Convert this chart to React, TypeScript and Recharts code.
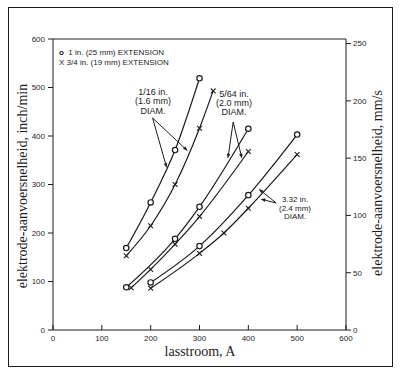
import { LineChart, Line, XAxis, YAxis, ReferenceLine } from "recharts";

// lasstroom (A) on x, draadsnelheid (inch/min) on y
const CURRENT_TICKS = [0, 100, 200, 300, 400, 500, 600];
const SPEED_TICKS = [0, 100, 200, 300, 400, 500, 600];
const MMS_TICKS = [0, 50, 100, 150, 200, 250];
const MMS_MAX = (600 * 25.4) / 60;

// 1/16 in. (1.6 mm)
const D16_LONG = [
  { x: 150, y: 169 },
  { x: 200, y: 263 },
  { x: 250, y: 371 },
  { x: 300, y: 519 },
];
const D16_SHORT = [
  { x: 150, y: 153 },
  { x: 200, y: 215 },
  { x: 250, y: 300 },
  { x: 300, y: 416 },
  { x: 328, y: 493 },
];
// 5/64 in. (2.0 mm)
const D564_LONG = [
  { x: 150, y: 88 },
  { x: 250, y: 188 },
  { x: 300, y: 254 },
  { x: 400, y: 415 },
];
const D564_SHORT = [
  { x: 160, y: 87 },
  { x: 200, y: 125 },
  { x: 250, y: 177 },
  { x: 300, y: 234 },
  { x: 400, y: 368 },
];
// 3/32 in. (2.4 mm)
const D332_LONG = [
  { x: 200, y: 98 },
  { x: 300, y: 173 },
  { x: 400, y: 278 },
  { x: 500, y: 403 },
];
const D332_SHORT = [
  { x: 200, y: 86 },
  { x: 300, y: 158 },
  { x: 350, y: 200 },
  { x: 400, y: 251 },
  { x: 500, y: 362 },
];

const SERIES = [
  { id: "d16o", data: D16_LONG, mark: "o" },
  { id: "d16x", data: D16_SHORT, mark: "x" },
  { id: "d564o", data: D564_LONG, mark: "o" },
  { id: "d564x", data: D564_SHORT, mark: "x" },
  { id: "d332o", data: D332_LONG, mark: "o" },
  { id: "d332x", data: D332_SHORT, mark: "x" },
];

// pointer arrows, in data units: [from, to]
const ARROWS = [
  [{ x: 204, y: 437 }, { x: 233, y: 334 }],
  [{ x: 204, y: 437 }, { x: 276, y: 369 }],
  [{ x: 369, y: 429 }, { x: 358, y: 353 }],
  [{ x: 369, y: 429 }, { x: 387, y: 353 }],
  [{ x: 457, y: 262 }, { x: 421, y: 291 }],
  [{ x: 457, y: 262 }, { x: 425, y: 270 }],
];

const LABELS = [
  { lines: ["1/16 in.", "(1.6 mm)", "DIAM."], cx: 153, top: 88, size: 9, lh: 9.3 },
  { lines: ["5/64 in.", "(2.0 mm)", "DIAM."], cx: 234, top: 90, size: 9, lh: 9 },
  { lines: ["3.32 in.", "(2.4 mm)", "DIAM."], cx: 295, top: 196, size: 8, lh: 8.5 },
];

const INK = "#1c1c1c";
const SANS = "'Liberation Sans', Arial, sans-serif";
const SERIF = "'Liberation Serif', 'Times New Roman', serif";

function CircleDot(props: any) {
  const { cx, cy } = props;
  if (cx == null || cy == null) return null;
  return <circle cx={cx} cy={cy} r={2.7} fill="#fff" stroke={INK} strokeWidth={1.2} />;
}

function CrossDot(props: any) {
  const { cx, cy } = props;
  if (cx == null || cy == null) return null;
  const s = 2.4;
  return (
    <path
      d={`M${cx - s},${cy - s}L${cx + s},${cy + s}M${cx - s},${cy + s}L${cx + s},${cy - s}`}
      stroke={INK}
      strokeWidth={1.1}
      fill="none"
    />
  );
}

function Arrow(p: any) {
  const { x1, y1, x2, y2 } = p;
  if (x1 == null) return null;
  const a = Math.atan2(y2 - y1, x2 - x1);
  const L = 5;
  const W = 1.7;
  const bx = x2 - L * Math.cos(a);
  const by = y2 - L * Math.sin(a);
  const pts = `${x2},${y2} ${bx - W * Math.sin(a)},${by + W * Math.cos(a)} ${bx + W * Math.sin(a)},${by - W * Math.cos(a)}`;
  return (
    <g>
      <line x1={x1} y1={y1} x2={bx} y2={by} stroke={INK} strokeWidth={1} />
      <polygon points={pts} fill={INK} />
    </g>
  );
}

// bottom ticks point up into the plot
function BottomTick(props: any) {
  const { x, y, payload } = props;
  const axisY = y - 4;
  return (
    <g>
      <line x1={x} x2={x} y1={axisY - 5} y2={axisY} stroke={INK} strokeWidth={1} />
      <text x={x} y={y + 7} textAnchor="middle" fontSize={8} fontFamily={SANS} fill={INK}>
        {payload.value}
      </text>
    </g>
  );
}

const tickStyle = { fontSize: 8, fill: INK, fontFamily: SANS };

export default function App() {
  return (
    <div style={{ position: "absolute", left: 0, top: 0, width: 400, height: 374, background: "#fff" }}>
      <div
        style={{
          position: "absolute",
          left: 8,
          top: 7,
          width: 383,
          height: 358,
          border: `1px solid ${INK}`,
        }}
      />
      <LineChart
        width={400}
        height={374}
        margin={{ top: 39, right: 0, bottom: 0, left: 0 }}
        style={{ position: "absolute", left: 0, top: 0 }}
      >
        <XAxis
          type="number"
          dataKey="x"
          domain={[0, 600]}
          ticks={CURRENT_TICKS}
          allowDataOverflow
          height={44}
          tickSize={0}
          tickMargin={4}
          tick={<BottomTick />}
          stroke={INK}
        />
        <YAxis
          yAxisId="left"
          type="number"
          dataKey="y"
          domain={[0, 600]}
          ticks={SPEED_TICKS}
          allowDataOverflow
          width={53}
          tickSize={5}
          tickMargin={3}
          tick={tickStyle}
          stroke={INK}
        />
        <YAxis
          yAxisId="right"
          orientation="right"
          type="number"
          domain={[0, MMS_MAX]}
          ticks={MMS_TICKS}
          allowDataOverflow
          width={54}
          tickSize={5}
          tickMargin={2}
          tick={tickStyle}
          stroke={INK}
        />
        <ReferenceLine yAxisId="left" y={600} stroke={INK} strokeWidth={1} />
        {ARROWS.map((seg, i) => (
          <ReferenceLine
            key={`a${i}`}
            yAxisId="left"
            segment={seg}
            ifOverflow="visible"
            shape={<Arrow />}
          />
        ))}
        {SERIES.map((s) => (
          <Line
            key={s.id}
            yAxisId="left"
            data={s.data}
            dataKey="y"
            type="monotone"
            stroke={INK}
            strokeWidth={1.2}
            dot={s.mark === "o" ? <CircleDot /> : <CrossDot />}
            activeDot={false}
            isAnimationActive={false}
          />
        ))}
      </LineChart>

      {/* legend */}
      <div
        style={{
          position: "absolute",
          left: 59,
          top: 48,
          fontFamily: SANS,
          fontSize: 8,
          lineHeight: "9.5px",
          color: INK,
          whiteSpace: "nowrap",
        }}
      >
        <div>
          <b>o</b>&nbsp; 1 in. (25 mm) EXTENSION
        </div>
        <div>X 3/4 in. (19 mm) EXTENSION</div>
      </div>

      {LABELS.map((l, i) => (
        <div
          key={i}
          style={{
            position: "absolute",
            left: l.cx - 30,
            width: 60,
            top: l.top,
            textAlign: "center",
            fontFamily: SANS,
            fontSize: l.size,
            lineHeight: `${l.lh}px`,
            color: INK,
          }}
        >
          {l.lines.map((t) => (
            <div key={t}>{t}</div>
          ))}
        </div>
      ))}

      {/* axis titles */}
      <div
        style={{
          position: "absolute",
          left: 23 - 120,
          top: 186 - 9,
          width: 240,
          height: 18,
          lineHeight: "18px",
          textAlign: "center",
          transform: "rotate(-90deg)",
          fontFamily: SERIF,
          fontSize: 14,
          color: INK,
          whiteSpace: "nowrap",
        }}
      >
        elektrode-aanvoersnelheid, inch/min
      </div>
      <div
        style={{
          position: "absolute",
          left: 378 - 120,
          top: 183 - 9,
          width: 240,
          height: 18,
          lineHeight: "18px",
          textAlign: "center",
          transform: "rotate(-90deg)",
          fontFamily: SERIF,
          fontSize: 14,
          color: INK,
          whiteSpace: "nowrap",
        }}
      >
        elektrode-aanvoersnelheid, mm/s
      </div>
      <div
        style={{
          position: "absolute",
          left: 200 - 60,
          top: 352 - 9,
          width: 120,
          height: 18,
          lineHeight: "18px",
          textAlign: "center",
          fontFamily: SERIF,
          fontSize: 14,
          color: INK,
        }}
      >
        lasstroom, A
      </div>
    </div>
  );
}
